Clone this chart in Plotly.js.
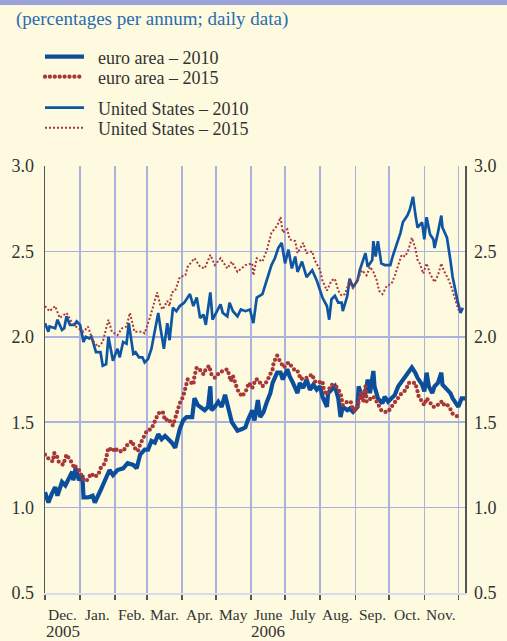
<!DOCTYPE html>
<html>
<head>
<meta charset="utf-8">
<script src="https://cdn.plot.ly/plotly-3.0.1.min.js"></script>
<style>
  html, body { margin: 0; padding: 0; background: #fdfadf; }
  #chart { width: 507px; height: 641px; }
  path[style*="dasharray: 0px"] { stroke-linecap: round; }
</style>
</head>
<body>
<div id="chart"></div>
<script>
// Day offsets counted from 1 December 2005 (daily data)
const euroDays2010 = [0,3,6,9,11,15,18,20,24,25,27,30,33,34,38,42,44,49,53,57,60,64,69,73,78,81,84,88,91,94,97,100,103,106,109,112,115,117,119,122,125,130,132,135,139,141,144,146,147,150,153,156,159,161,162,165,168,170,174,177,179,183,185,188,190,193,196,199,201,205,208,210,214,216,219,223,225,228,231,234,237,240,243,245,249,250,253,256,259,261,263,267,269,272,276,277,280,283,285,287,290,291,294,298,300,303,306,309,312,315,318,321,324,327,329,333,335,337,339,342,344,347,350,351,355,358,360,364,365,368,371];
const euroValues2010 = [1.09,1.03,1.08,1.12,1.07,1.15,1.13,1.16,1.21,1.16,1.23,1.16,1.19,1.06,1.06,1.07,1.03,1.10,1.16,1.22,1.19,1.22,1.23,1.26,1.25,1.23,1.31,1.34,1.34,1.39,1.38,1.43,1.40,1.42,1.40,1.38,1.35,1.42,1.46,1.51,1.53,1.53,1.64,1.60,1.58,1.57,1.59,1.71,1.57,1.59,1.62,1.59,1.66,1.59,1.58,1.50,1.47,1.45,1.46,1.47,1.51,1.57,1.51,1.63,1.53,1.56,1.62,1.67,1.73,1.79,1.79,1.75,1.81,1.77,1.73,1.67,1.73,1.70,1.75,1.69,1.72,1.69,1.71,1.65,1.59,1.67,1.69,1.71,1.64,1.53,1.59,1.57,1.58,1.56,1.59,1.71,1.65,1.67,1.75,1.67,1.80,1.71,1.64,1.61,1.65,1.62,1.64,1.66,1.71,1.74,1.76,1.79,1.82,1.79,1.76,1.72,1.68,1.79,1.71,1.67,1.71,1.73,1.79,1.72,1.69,1.67,1.64,1.60,1.59,1.64,1.64];

const euroDays2015 = [0,4,7,8,10,12,16,19,23,26,27,30,34,37,41,43,47,49,53,55,56,60,62,64,69,73,77,79,82,84,86,90,94,97,100,102,104,106,109,113,117,119,122,125,126,131,132,134,138,140,142,145,147,150,154,157,161,162,164,166,168,170,174,178,180,183,186,188,192,194,196,198,201,202,205,208,211,215,217,221,223,226,228,231,236,238,241,245,246,248,253,257,261,262,263,267,270,272,275,277,279,281,283,284,286,290,293,297,300,303,306,307,311,315,319,321,324,327,329,330,333,335,337,340,343,345,347,350,351,354,357,360,365];
const euroValues2015 = [1.31,1.28,1.27,1.32,1.31,1.27,1.25,1.31,1.27,1.23,1.24,1.22,1.16,1.16,1.20,1.18,1.19,1.23,1.26,1.31,1.35,1.33,1.35,1.33,1.33,1.37,1.39,1.35,1.33,1.37,1.40,1.45,1.46,1.51,1.55,1.56,1.56,1.51,1.52,1.48,1.57,1.61,1.65,1.72,1.75,1.72,1.77,1.82,1.80,1.78,1.81,1.83,1.78,1.76,1.79,1.80,1.81,1.79,1.74,1.77,1.73,1.69,1.65,1.69,1.73,1.70,1.75,1.75,1.71,1.72,1.74,1.77,1.81,1.85,1.89,1.85,1.82,1.85,1.83,1.80,1.80,1.75,1.76,1.76,1.78,1.74,1.73,1.74,1.70,1.66,1.72,1.71,1.67,1.62,1.60,1.62,1.62,1.57,1.57,1.62,1.67,1.62,1.71,1.62,1.63,1.65,1.62,1.57,1.56,1.56,1.59,1.60,1.63,1.67,1.69,1.73,1.73,1.73,1.68,1.65,1.62,1.60,1.64,1.61,1.59,1.59,1.60,1.62,1.60,1.61,1.59,1.55,1.53];

const usDays2010 = [0,3,4,9,11,15,17,19,22,26,28,31,34,36,39,41,42,45,49,51,54,56,60,64,66,69,72,74,78,80,83,86,88,91,94,98,100,102,105,108,110,113,116,119,123,126,128,131,134,137,140,142,146,148,152,155,157,161,163,166,170,173,177,181,184,187,192,194,197,200,203,206,209,212,215,218,221,223,227,231,236,240,243,245,249,251,253,256,259,262,263,267,269,272,276,278,283,285,289,290,292,294,297,300,305,307,311,314,316,320,322,325,327,329,333,335,337,340,343,344,347,350,351,355,358,360,364,367,369];
const usValues2010 = [2.08,2.03,2.06,2.05,2.10,2.04,2.05,2.12,2.07,2.07,2.09,2.07,1.97,2.00,1.99,2.00,1.98,1.91,1.91,1.83,1.84,2.00,1.86,1.93,1.88,1.97,1.96,2.08,1.90,1.91,1.88,1.88,1.85,1.87,1.93,2.08,2.14,2.05,1.93,2.08,1.98,2.17,2.15,2.18,2.20,2.23,2.25,2.18,2.23,2.11,2.13,2.07,2.26,2.10,2.15,2.19,2.14,2.12,2.20,2.15,2.12,2.16,2.15,2.16,2.08,2.23,2.25,2.29,2.35,2.42,2.46,2.52,2.55,2.43,2.51,2.40,2.47,2.38,2.44,2.35,2.39,2.33,2.27,2.23,2.18,2.10,2.22,2.24,2.20,2.20,2.15,2.24,2.34,2.29,2.33,2.39,2.49,2.41,2.45,2.56,2.47,2.56,2.43,2.42,2.42,2.47,2.55,2.61,2.67,2.71,2.74,2.82,2.72,2.64,2.67,2.57,2.70,2.60,2.57,2.52,2.61,2.71,2.64,2.58,2.45,2.35,2.22,2.14,2.17];

const usDays2015 = [0,4,9,13,19,24,29,34,38,42,47,51,56,59,64,68,72,75,79,86,88,93,99,102,104,108,110,112,115,119,124,126,132,137,141,146,150,155,161,165,170,177,183,184,187,192,196,200,205,208,210,214,216,221,223,228,231,236,238,243,245,249,253,256,259,262,265,269,272,276,280,284,287,290,293,295,298,302,306,309,312,315,318,321,324,327,329,331,334,337,340,344,347,350,352,356,359,362,365,368];
const usValues2015 = [2.18,2.15,2.18,2.11,2.14,2.08,2.05,2.03,2.06,1.98,1.94,1.97,2.10,2.03,2.01,2.05,2.06,2.14,2.03,2.03,2.02,2.12,2.26,2.18,2.16,2.21,2.18,2.26,2.27,2.35,2.36,2.41,2.46,2.41,2.40,2.48,2.42,2.46,2.40,2.44,2.38,2.42,2.43,2.36,2.46,2.44,2.51,2.61,2.65,2.70,2.61,2.63,2.57,2.56,2.49,2.55,2.49,2.50,2.45,2.39,2.33,2.27,2.33,2.34,2.27,2.24,2.25,2.33,2.28,2.34,2.39,2.36,2.41,2.38,2.33,2.27,2.25,2.30,2.31,2.36,2.42,2.48,2.47,2.51,2.58,2.52,2.45,2.43,2.37,2.43,2.37,2.32,2.36,2.43,2.39,2.34,2.29,2.23,2.16,2.16];

const seriesNames = ['euro area \u2013 2010', 'euro area \u2013 2015', 'United States \u2013 2010', 'United States \u2013 2015'];
const monthStarts = ['2005-12-01','2006-01-01','2006-02-01','2006-03-01','2006-04-01','2006-05-01','2006-06-01','2006-07-01','2006-08-01','2006-09-01','2006-10-01','2006-11-01','2006-12-01'];
const monthLabels = ['Dec.','Jan.','Feb.','Mar.','Apr.','May','June','July','Aug.','Sep.','Oct.','Nov.'];
const yearLabels = ['2005', '2006'];
const yearLabelMonth = [0, 6];
const yTicks = [0.5, 1.0, 1.5, 2.0, 2.5, 3.0];

const base = Date.UTC(2005, 11, 1);
const toDate = d => new Date(base + d * 86400000).toISOString().slice(0, 10);
const mid = (a, b) => new Date((Date.parse(a) + Date.parse(b)) / 2).toISOString().slice(0, 16);

const W = 507, H = 641;
const plotL = 45, plotR = 465, plotT = 166, plotB = 593;
const ph = plotB - plotT, pw = plotR - plotL;

const SERIF = 'Liberation Serif, Times New Roman, serif';
const TXT = '#333333';
const GRID = '#aab2dd';
const BG = '#fdfadf';
const BLUE = '#0b4f9c';
const RED = '#a83838';
const GAP = '\u2002'; // spacing between legend symbol and label

const legendAt = (yc) => ({
  xref: 'container', yref: 'container',
  x: 40 / W, y: 1 - yc / H, xanchor: 'left', yanchor: 'middle',
  bgcolor: 'rgba(0,0,0,0)', borderwidth: 0, itemwidth: 39,
  font: { family: SERIF, size: 18, color: TXT }
});

const traces = [
  { x: euroDays2010.map(toDate), y: euroValues2010, name: GAP + seriesNames[0], type: 'scatter', mode: 'lines',
    line: { color: BLUE, width: 4.2 }, legend: 'legend' },
  { x: euroDays2015.map(toDate), y: euroValues2015, name: GAP + seriesNames[1], type: 'scatter', mode: 'lines',
    line: { color: RED, width: 4.3, dash: '0px,4.9px' }, legend: 'legend2' },
  { x: usDays2010.map(toDate), y: usValues2010, name: GAP + seriesNames[2], type: 'scatter', mode: 'lines',
    line: { color: '#0e55a4', width: 2.7 }, legend: 'legend3' },
  { x: usDays2015.map(toDate), y: usValues2015, name: GAP + seriesNames[3], type: 'scatter', mode: 'lines',
    line: { color: RED, width: 2, dash: '2px,2px' }, legend: 'legend4' },
  // right-hand value axis
  { x: [], y: [], yaxis: 'y2', showlegend: false, hoverinfo: 'skip', type: 'scatter' }
];

const annotations = [];
monthLabels.forEach((m, i) => {
  annotations.push({ x: mid(monthStarts[i], monthStarts[i + 1]), xref: 'x', yref: 'paper',
    y: -(614 - plotB) / ph, yanchor: 'middle', xanchor: 'center', showarrow: false, text: m,
    font: { family: SERIF, size: 15.5, color: TXT } });
});
yearLabels.forEach((t, i) => {
  const k = yearLabelMonth[i];
  annotations.push({ x: mid(monthStarts[k], monthStarts[k + 1]), xref: 'x', yref: 'paper',
    y: -(631 - plotB) / ph, yanchor: 'middle', xanchor: 'center', showarrow: false, text: t,
    font: { family: SERIF, size: 17, color: TXT } });
});

const layout = {
  width: W, height: H,
  margin: { l: plotL, r: W - plotR, t: plotT, b: H - plotB, pad: 0, autoexpand: false },
  paper_bgcolor: BG, plot_bgcolor: BG,
  showlegend: true,
  title: { text: '(percentages per annum; daily data)', xref: 'container', yref: 'container',
    x: 16 / W, xanchor: 'left', y: 1 - 18 / H, yanchor: 'middle', automargin: false,
    font: { family: SERIF, size: 19, color: '#2a6bb0' } },
  legend: legendAt(57), legend2: legendAt(77), legend3: legendAt(108), legend4: legendAt(128),
  xaxis: { type: 'date', range: ['2005-12-01', '2006-12-06 22:00'], tickvals: monthStarts,
    showticklabels: false, ticks: 'outside', ticklen: 5, tickwidth: 1.5, tickcolor: '#555555',
    showgrid: true, gridcolor: GRID, gridwidth: 1.5, showline: true, linecolor: '#d9dcec', linewidth: 1.5,
    zeroline: false, fixedrange: true, automargin: false },
  yaxis: { range: [0.5, 3.0], tickvals: yTicks, tickformat: '.1f', ticks: '', showgrid: true,
    gridcolor: GRID, gridwidth: 1.5, showline: true, linecolor: '#555555', linewidth: 1.5, zeroline: false,
    ticklabelstandoff: 6, tickfont: { family: SERIF, size: 18, color: TXT }, fixedrange: true, automargin: false },
  yaxis2: { range: [0.5, 3.0], tickvals: yTicks, tickformat: '.1f', overlaying: 'y', side: 'right',
    ticks: '', showgrid: false, showline: true, linecolor: '#555555', linewidth: 1.5, zeroline: false,
    ticklabelstandoff: 4, tickfont: { family: SERIF, size: 18, color: TXT }, fixedrange: true, automargin: false },
  annotations: annotations,
  shapes: [
    { type: 'rect', xref: 'paper', yref: 'paper', x0: -plotL / pw, x1: (W - plotL) / pw,
      y0: (plotB - 5) / ph, y1: plotB / ph + 0.02, fillcolor: '#9ba2d8', line: { width: 0 }, layer: 'above' }
  ]
};

Plotly.newPlot('chart', traces, layout, { displayModeBar: false, staticPlot: true }).then(() => {
  document.querySelectorAll('path').forEach(p => {
    if ((p.style.strokeDasharray || '').indexOf('0px') === 0) p.style.strokeLinecap = 'round';
  });
});
</script>
</body>
</html>
